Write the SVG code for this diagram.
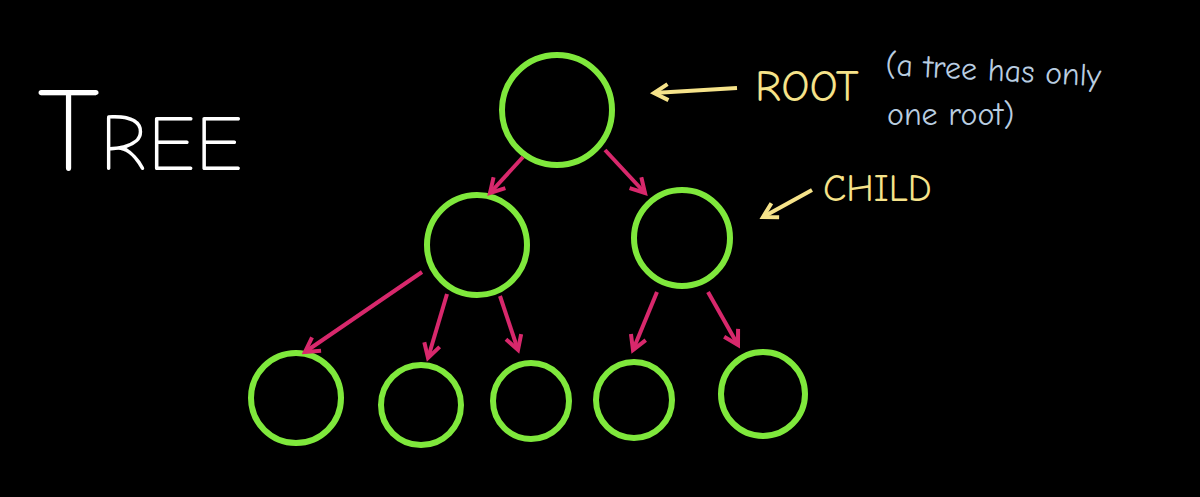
<svg xmlns="http://www.w3.org/2000/svg" width="1200" height="497" viewBox="0 0 1200 497">
<defs>
<style>
.n{fill:none;stroke:#7fe83c;stroke-width:6}
.e{stroke:#d8286c;stroke-width:4;fill:none;marker-end:url(#m)}
.y{stroke:#f6e38a;stroke-width:4;fill:none;marker-end:url(#my)}
.t{font-family:"Comic Neue","Liberation Sans",sans-serif}
</style>
<marker id="m" viewBox="0 0 10 10" refX="8" refY="5" markerWidth="5" markerHeight="5" orient="auto"><path d="M1,1 L8,5 L1,9" fill="none" stroke="#d8286c" stroke-width="2"/></marker>
<marker id="my" viewBox="0 0 10 10" refX="8" refY="5" markerWidth="5" markerHeight="5" orient="auto"><path d="M1,1 L8,5 L1,9" fill="none" stroke="#f6e38a" stroke-width="2"/></marker>
</defs>
<rect width="1200" height="497" fill="#000"/>
<text class="t" x="38" y="170" fill="#fff" font-size="120" font-weight="200">T<tspan font-size="78">REE</tspan></text>
<g id="root"><circle class="n" cx="557" cy="110" r="55"/></g>
<g id="c1"><circle class="n" cx="477" cy="245" r="50"/></g>
<g id="c2"><circle class="n" cx="682" cy="238" r="48"/></g>
<g id="l1"><circle class="n" cx="296" cy="398" r="45"/></g>
<g id="l2"><circle class="n" cx="421" cy="405" r="40"/></g>
<g id="l3"><circle class="n" cx="531" cy="401" r="38"/></g>
<g id="l4"><circle class="n" cx="634" cy="400" r="38"/></g>
<g id="l5"><circle class="n" cx="763" cy="394" r="42"/></g>
<g id="edges">
<path class="e" d="M523,157 L490,193"/>
<path class="e" d="M605,150 L645,193"/>
<path class="e" d="M422,272 L305,352"/>
<path class="e" d="M447,294 L428,358"/>
<path class="e" d="M500,296 L518,350"/>
<path class="e" d="M657,292 L633,350"/>
<path class="e" d="M708,292 L738,345"/>
<path class="y" d="M737,88 L654,93"/>
<path class="y" d="M812,190 L763,217"/>
</g>
<text class="t" x="755" y="101" fill="#f6e38a" font-size="44">ROOT</text>
<text class="t" x="823" y="201" fill="#f6e38a" font-size="38">CHILD</text>
<text class="t" x="885" y="75" fill="#b9cde0" font-size="32" transform="rotate(3 885 75)">(a tree has only</text>
<text class="t" x="887" y="125" fill="#b9cde0" font-size="32">one root)</text>
</svg>
